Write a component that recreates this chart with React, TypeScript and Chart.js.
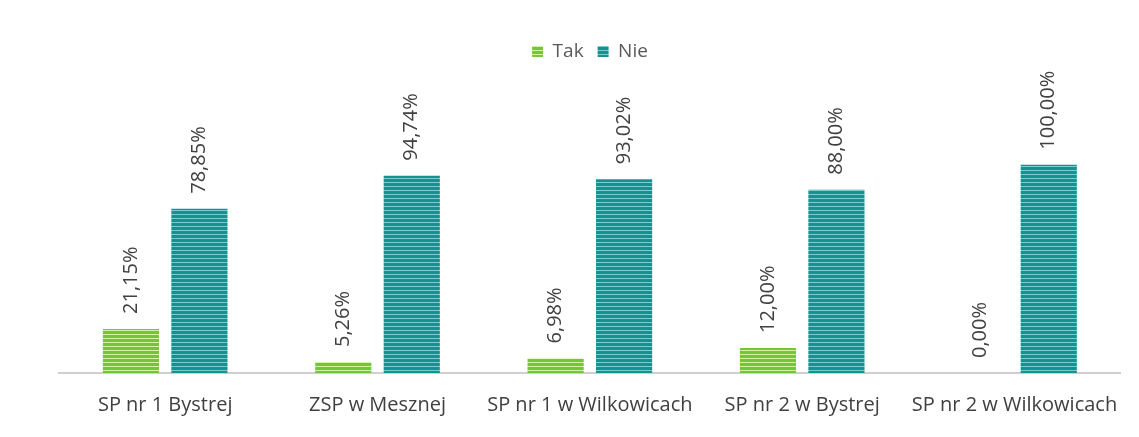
import React, { useEffect, useRef } from "react";
import { Chart, registerables } from "chart.js";

Chart.register(...registerables);

const categories = [
  "SP nr 1 Bystrej",
  "ZSP w Mesznej",
  "SP nr 1 w Wilkowicach",
  "SP nr 2 w Bystrej",
  "SP nr 2 w Wilkowicach",
];
const takValues = [21.15, 5.26, 6.98, 12.0, 0.0];
const nieValues = [78.85, 94.74, 93.02, 88.0, 100.0];
const seriesNames = ["Tak", "Nie"];

function makeStripes(base: string, light: string): CanvasPattern | string {
  const c = document.createElement("canvas");
  c.width = 4;
  c.height = 4;
  const ctx = c.getContext("2d");
  if (!ctx) return base;
  ctx.fillStyle = base;
  ctx.fillRect(0, 0, 4, 4);
  ctx.fillStyle = light;
  ctx.fillRect(0, 2, 4, 1);
  const p = ctx.createPattern(c, "repeat");
  return p || base;
}

const fmt = (v: number) => v.toFixed(2).replace(".", ",") + "%";

const labelPlugin = {
  id: "barLabels",
  afterDatasetsDraw(chart: any) {
    const ctx = chart.ctx;
    ctx.save();
    ctx.font = '20px "Open Sans", sans-serif';
    ctx.fillStyle = "#404040";
    ctx.textAlign = "left";
    ctx.textBaseline = "middle";
    chart.data.datasets.forEach((ds: any, di: number) => {
      const meta = chart.getDatasetMeta(di);
      meta.data.forEach((bar: any, i: number) => {
        const v = ds.data[i];
        ctx.save();
        ctx.translate(bar.x, bar.y - 15);
        ctx.rotate(-Math.PI / 2);
        ctx.fillText(fmt(v), 0, 0);
        ctx.restore();
      });
    });
    ctx.restore();
  },
};

export default function App() {
  const ref = useRef<HTMLCanvasElement>(null);
  useEffect(() => {
    if (!ref.current) return;
    const takFill = makeStripes("#72c63a", "#d4f2a0");
    const nieFill = makeStripes("#17908f", "#74d0cc");
    const chart = new Chart(ref.current, {
      type: "bar",
      data: {
        labels: categories,
        datasets: [
          {
            label: seriesNames[0],
            data: takValues,
            backgroundColor: takFill as any,
            barPercentage: 0.82,
            categoryPercentage: 0.645,
          },
          {
            label: seriesNames[1],
            data: nieValues,
            backgroundColor: nieFill as any,
            barPercentage: 0.82,
            categoryPercentage: 0.645,
          },
        ],
      },
      options: {
        animation: false,
        responsive: false,
        maintainAspectRatio: false,
        layout: { padding: { left: 59, right: 18, top: 28, bottom: 0 } },
        plugins: {
          legend: {
            position: "top",
            labels: {
              boxWidth: 11,
              boxHeight: 11,
              padding: 14,
              color: "#595959",
              font: { family: '"Open Sans", sans-serif', size: 19 },
            },
          },
          tooltip: { enabled: false },
        },
        scales: {
          x: {
            grid: { display: false, drawTicks: false },
            border: { display: true, color: "#cfcfcf", width: 2 },
            ticks: {
              color: "#404040",
              padding: 20,
              maxRotation: 0,
              autoSkip: false,
              font: { family: '"Open Sans", sans-serif', size: 20 },
            },
          },
          y: {
            display: false,
            min: 0,
            max: 145,
          },
        },
      },
      plugins: [labelPlugin],
    });
    return () => chart.destroy();
  }, []);
  return (
    <div style={{ position: "fixed", left: 0, top: 0, width: 1139, height: 437, background: "#fff" }}>
      <canvas ref={ref} width={1139} height={437} style={{ display: "block" }} />
    </div>
  );
}
